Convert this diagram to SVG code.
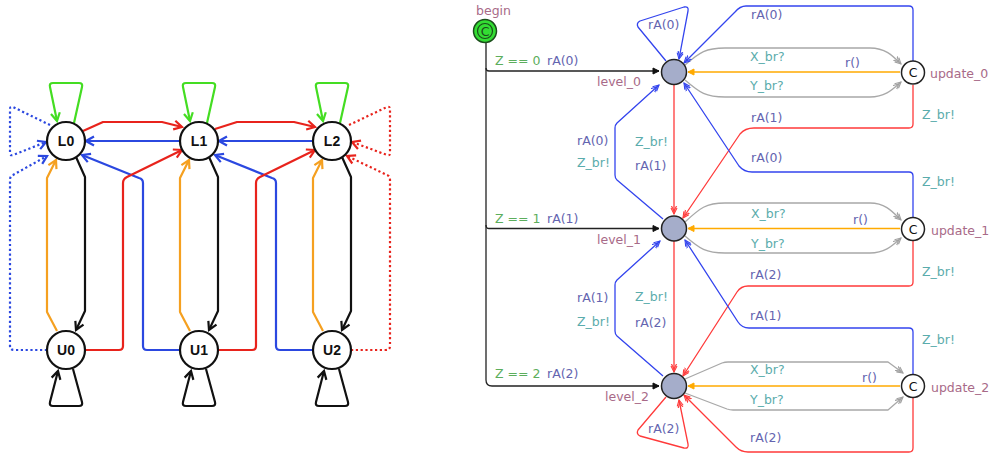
<svg xmlns="http://www.w3.org/2000/svg" width="995" height="459" viewBox="0 0 995 459">
<style>
.ln{fill:none;stroke-width:2.2;stroke-linejoin:round}
.bk{stroke:#111}.rd{stroke:#e8231c}.bl{stroke:#2b48e0}.gr{stroke:#44dd22}.or{stroke:#f5a020}
.dot{stroke-dasharray:2.2 2.6}
.nd{fill:#fff;stroke:#111;stroke-width:2.2}
.nl{font-family:"Liberation Sans",Arial,sans-serif;font-weight:bold;font-size:14px;text-anchor:middle;fill:#111}
.rl{fill:none;stroke-width:1.3;stroke-linejoin:round}
.rb{stroke:#3344ee}.rr{stroke:#ff3a3a}.ro{stroke:#ffaa00}.rg{stroke:#a8a8a8}.rk{stroke:#222}
.t{font-family:"DejaVu Sans",Verdana,sans-serif;font-size:12.5px}
.nm{fill:#a86a88}.as{fill:#6464b0}.sy{fill:#5aacac}.gd{fill:#5cae5c}
.lv{fill:#a5adca;stroke:#222;stroke-width:1.5}
.up{fill:#fff;stroke:#222;stroke-width:1.5}
</style>
<defs>
<marker id="aK" viewBox="-10 -6 12 12" refX="0" refY="0" markerWidth="12" markerHeight="12" markerUnits="userSpaceOnUse" orient="auto"><path d="M-8,-4.5 L0,0 L-8,4.5" fill="none" stroke="#111" stroke-width="2.2"/></marker>
<marker id="aR" viewBox="-10 -6 12 12" refX="0" refY="0" markerWidth="12" markerHeight="12" markerUnits="userSpaceOnUse" orient="auto"><path d="M-8,-4.5 L0,0 L-8,4.5" fill="none" stroke="#e8231c" stroke-width="2.2"/></marker>
<marker id="aB" viewBox="-10 -6 12 12" refX="0" refY="0" markerWidth="12" markerHeight="12" markerUnits="userSpaceOnUse" orient="auto"><path d="M-8,-4.5 L0,0 L-8,4.5" fill="none" stroke="#2b48e0" stroke-width="2.2"/></marker>
<marker id="aG" viewBox="-10 -6 12 12" refX="0" refY="0" markerWidth="12" markerHeight="12" markerUnits="userSpaceOnUse" orient="auto"><path d="M-8,-4.5 L0,0 L-8,4.5" fill="none" stroke="#44dd22" stroke-width="2.2"/></marker>
<marker id="aO" viewBox="-10 -6 12 12" refX="0" refY="0" markerWidth="12" markerHeight="12" markerUnits="userSpaceOnUse" orient="auto"><path d="M-8,-4.5 L0,0 L-8,4.5" fill="none" stroke="#f5a020" stroke-width="2.2"/></marker>
<marker id="sB" viewBox="-8 -5 10 10" refX="0" refY="0" markerWidth="10" markerHeight="10" markerUnits="userSpaceOnUse" orient="auto"><path d="M-6,-3 L0,0 L-6,3 M-9,-3 L-3,0 L-9,3" fill="none" stroke="#3344ee" stroke-width="1.1"/></marker>
<marker id="sR" viewBox="-8 -5 10 10" refX="0" refY="0" markerWidth="10" markerHeight="10" markerUnits="userSpaceOnUse" orient="auto"><path d="M-6,-3 L0,0 L-6,3 M-9,-3 L-3,0 L-9,3" fill="none" stroke="#ff3a3a" stroke-width="1.1"/></marker>
<marker id="sG" viewBox="-8 -5 10 10" refX="0" refY="0" markerWidth="10" markerHeight="10" markerUnits="userSpaceOnUse" orient="auto"><path d="M-6,-3 L0,0 L-6,3 M-9,-3 L-3,0 L-9,3" fill="none" stroke="#a0a0a0" stroke-width="1.1"/></marker>
<marker id="sO" viewBox="-8 -5 10 10" refX="0" refY="0" markerWidth="10" markerHeight="10" markerUnits="userSpaceOnUse" orient="auto"><path d="M-6,-3 L0,0 L-6,3 Z" fill="#ffaa00" stroke="#ffaa00" stroke-width="1"/></marker>
<marker id="sK" viewBox="-8 -5 10 10" refX="0" refY="0" markerWidth="10" markerHeight="10" markerUnits="userSpaceOnUse" orient="auto"><path d="M-6,-3 L0,0 L-6,3 Z" fill="#111" stroke="#111" stroke-width="1"/></marker>
</defs>
<rect width="995" height="459" fill="#fff"/>

<g id="connectors">
<!-- left diagram -->
<g id="left-edges">
<!-- green self loops -->
<path class="ln gr" d="M74,123 L82,87 Q83,83 79,83 L53,83 Q49,83 50,87 L57,121" marker-end="url(#aG)"/>
<path class="ln gr" d="M207,123 L215,87 Q216,83 212,83 L186,83 Q182,83 183,87 L190,121" marker-end="url(#aG)"/>
<path class="ln gr" d="M340,123 L348,87 Q349,83 345,83 L319,83 Q315,83 316,87 L323,121" marker-end="url(#aG)"/>
<!-- black L->U -->
<path class="ln bk" d="M76,157 L85,177 L85,311 L76,330" marker-end="url(#aK)"/>
<path class="ln bk" d="M209,157 L218,177 L218,311 L209,330" marker-end="url(#aK)"/>
<path class="ln bk" d="M342,157 L351,177 L351,311 L342,330" marker-end="url(#aK)"/>
<!-- orange U->L -->
<path class="ln or" d="M57,331 L47,312 L47,178 L56,160" marker-end="url(#aO)"/>
<path class="ln or" d="M190,331 L180,312 L180,178 L189,160" marker-end="url(#aO)"/>
<path class="ln or" d="M323,331 L313,312 L313,178 L322,160" marker-end="url(#aO)"/>
<!-- black U self loops -->
<path class="ln bk" d="M73,369 L82,402 Q83,406 79,406 L53,406 Q49,406 50,402 L58,371" marker-end="url(#aK)"/>
<path class="ln bk" d="M206,369 L215,402 Q216,406 212,406 L186,406 Q182,406 183,402 L191,371" marker-end="url(#aK)"/>
<path class="ln bk" d="M339,369 L348,402 Q349,406 345,406 L319,406 Q315,406 316,402 L324,371" marker-end="url(#aK)"/>
<!-- red L_i -> L_i+1 -->
<path class="ln rd" d="M83,131 L103,122 L162,122 L182,127" marker-end="url(#aR)"/>
<path class="ln rd" d="M215,129 L237,122 L294,122 L315,127" marker-end="url(#aR)"/>
<!-- blue L_i+1 -> L_i -->
<path class="ln bl" d="M180,141 L86,141" marker-end="url(#aB)"/>
<path class="ln bl" d="M313,141 L219,141" marker-end="url(#aB)"/>
<!-- blue U_i+1 -> L_i -->
<path class="ln bl" d="M180,350 L147,350 Q143,350 143,346 L143,183 Q143,179 139,178 L82,155" marker-end="url(#aB)"/>
<path class="ln bl" d="M313,350 L280,350 Q276,350 276,346 L276,183 Q276,179 272,178 L215,155" marker-end="url(#aB)"/>
<!-- red U_i -> L_i+1 -->
<path class="ln rd" d="M85,350 L119,350 Q123,350 123,346 L123,183 Q123,179 127,177 L182,150" marker-end="url(#aR)"/>
<path class="ln rd" d="M218,350 L252,350 Q256,350 256,346 L256,183 Q256,179 260,177 L315,150" marker-end="url(#aR)"/>
<!-- dotted blue at L0 -->
<path class="ln bl dot" d="M50,125 L13,107 Q10,106 10,109 L10,153 Q10,156 13,155 L46,142" marker-end="url(#aB)"/>
<path class="ln bl dot" d="M47,350 L14,350 Q10,350 10,346 L10,180 Q10,176 13,175 L47,156" marker-end="url(#aB)"/>
<!-- dotted red at L2 -->
<path class="ln rd dot" d="M349,125 L387,107 Q390,106 390,109 L390,153 Q390,156 387,155 L352,142" marker-end="url(#aR)"/>
<path class="ln rd dot" d="M351,350 L386,350 Q390,350 390,346 L390,180 Q390,176 387,175 L347,156" marker-end="url(#aR)"/>
</g>

<!-- right diagram -->
<g id="right-edges">
<!-- init branches -->
<path class="rl rk" d="M486,42 L486,380 Q486,386 492,386 L659,386" marker-end="url(#sK)"/>
<path class="rl rk" d="M486,68 Q486,71 489,71 L659,71" marker-end="url(#sK)"/>
<path class="rl rk" d="M486,225 Q486,228.5 489,228.5 L659,228.5" marker-end="url(#sK)"/>
<!-- orange r() -->
<path class="rl ro" d="M900,72 L688,72" marker-end="url(#sO)"/>
<path class="rl ro" d="M900,228.5 L688,228.5" marker-end="url(#sO)"/>
<path class="rl ro" d="M900,386 L688,386" marker-end="url(#sO)"/>
<!-- gray X_br? / Y_br? -->
<path class="rl rg" d="M685,65 C700,52 706,48 725,48 L870,48 C885,48 892,55 901,64" marker-end="url(#sG)"/>
<path class="rl rg" d="M685,80 C700,93 706,97 725,97 L870,97 C885,97 892,90 901,82" marker-end="url(#sG)"/>
<path class="rl rg" d="M685,222 C700,208 706,203 725,203 L870,203 C885,203 892,211 901,220" marker-end="url(#sG)"/>
<path class="rl rg" d="M685,236 C700,249 706,253 725,253 L870,253 C885,253 892,246 901,238" marker-end="url(#sG)"/>
<path class="rl rg" d="M685,379 L722,363 Q725,362 728,362 L888,362 L903,373" marker-end="url(#sG)"/>
<path class="rl rg" d="M685,393 L727,409 Q730,410 733,410 L888,410 L903,397" marker-end="url(#sG)"/>
<!-- red vertical level_i -> level_i+1 -->
<path class="rl rr" d="M674,85 L674,214" marker-end="url(#sR)"/>
<path class="rl rr" d="M674,241 L674,372" marker-end="url(#sR)"/>
<!-- blue left level_i+1 -> level_i -->
<path class="rl rb" d="M663,219 L617,180 Q615,178 615,175 L615,128 Q615,125 617,123 L659,85" marker-end="url(#sB)"/>
<path class="rl rb" d="M663,376 L617,336 Q615,334 615,331 L615,285 Q615,282 617,280 L660,241" marker-end="url(#sB)"/>
<!-- self loops -->
<path class="rl rb" d="M666,61 L638,27 Q636,23 640,21 L684,7 Q689,6 688,11 L679,59" marker-end="url(#sB)"/>
<path class="rl rr" d="M666,397 L638,430 Q636,434 640,436 L684,448 Q689,449 688,444 L679,400" marker-end="url(#sR)"/>
<!-- update -> level -->
<path class="rl rb" d="M913,61 L913,10 Q913,6 909,6 L746,6 Q740,6 735,12 L684,63" marker-end="url(#sB)"/>
<path class="rl rr" d="M913,85 L913,124 Q913,128 909,128 L754,128 Q745,128 740,134 L683,218" marker-end="url(#sR)"/>
<path class="rl rb" d="M913,217 L913,176 Q913,172 909,172 L752,172 Q744,172 739,166 L684,83" marker-end="url(#sB)"/>
<path class="rl rr" d="M913,241 L913,282 Q913,286 909,286 L748,286 Q741,286 737,292 L683,376" marker-end="url(#sR)"/>
<path class="rl rb" d="M913,374 L913,332 Q913,328 909,328 L749,328 Q742,328 738,322 L685,240" marker-end="url(#sB)"/>
<path class="rl rr" d="M913,398 L913,448 Q913,452 909,452 L748,452 Q741,452 736,447 L684,395" marker-end="url(#sR)"/>
</g>
</g>

<!-- left nodes -->
<g id="L0"><circle class="nd" cx="66" cy="141" r="19"/><text class="nl" x="66" y="146">L0</text></g>
<g id="L1"><circle class="nd" cx="199" cy="141" r="19"/><text class="nl" x="199" y="146">L1</text></g>
<g id="L2"><circle class="nd" cx="332" cy="141" r="19"/><text class="nl" x="332" y="146">L2</text></g>
<g id="U0"><circle class="nd" cx="66" cy="350" r="19"/><text class="nl" x="66" y="355">U0</text></g>
<g id="U1"><circle class="nd" cx="199" cy="350" r="19"/><text class="nl" x="199" y="355">U1</text></g>
<g id="U2"><circle class="nd" cx="332" cy="350" r="19"/><text class="nl" x="332" y="355">U2</text></g>

<!-- right nodes -->
<g id="begin">
<circle cx="485" cy="31" r="11.5" fill="#33dd33" stroke="#1b4d1b" stroke-width="1.5"/>
<circle cx="485" cy="31" r="7.5" fill="none" stroke="#1b4d1b" stroke-width="1.2"/>
<text class="t" x="485" y="35.5" text-anchor="middle" font-size="11" fill="#1b4d1b">C</text>
<text class="t nm" x="476" y="15">begin</text>
</g>
<g id="level_0"><circle class="lv" cx="674" cy="72" r="12.5"/><text class="t nm" x="597" y="86">level_0</text></g>
<g id="level_1"><circle class="lv" cx="674" cy="228.5" r="12.5"/><text class="t nm" x="597" y="244">level_1</text></g>
<g id="level_2"><circle class="lv" cx="674" cy="386" r="12.5"/><text class="t nm" x="605" y="401">level_2</text></g>
<g id="update_0"><circle class="up" cx="913" cy="72.5" r="11.5"/><text class="t" x="913" y="77" text-anchor="middle" font-size="12" fill="#111">C</text><text class="t nm" x="930" y="78">update_0</text></g>
<g id="update_1"><circle class="up" cx="913" cy="229" r="11.5"/><text class="t" x="913" y="233.5" text-anchor="middle" font-size="12" fill="#111">C</text><text class="t nm" x="931" y="235">update_1</text></g>
<g id="update_2"><circle class="up" cx="913" cy="386" r="11.5"/><text class="t" x="913" y="390.5" text-anchor="middle" font-size="12" fill="#111">C</text><text class="t nm" x="931" y="392">update_2</text></g>

<!-- edge labels -->
<g id="labels" class="t">
<text class="gd" x="495" y="65">Z == 0</text><text class="as" x="547" y="65">rA(0)</text>
<text class="gd" x="495" y="223">Z == 1</text><text class="as" x="547" y="223">rA(1)</text>
<text class="gd" x="495" y="378">Z == 2</text><text class="as" x="547" y="378">rA(2)</text>
<text class="as" x="648" y="29">rA(0)</text>
<text class="as" x="648" y="433">rA(2)</text>
<text class="as" x="751" y="19">rA(0)</text>
<text class="sy" x="750" y="61">X_br?</text><text class="as" x="845" y="67">r()</text><text class="sy" x="750" y="90">Y_br?</text>
<text class="as" x="751" y="122">rA(1)</text><text class="sy" x="922" y="119">Z_br!</text>
<text class="as" x="577" y="145">rA(0)</text><text class="sy" x="577" y="167">Z_br!</text>
<text class="sy" x="635" y="146">Z_br!</text><text class="as" x="635" y="170">rA(1)</text>
<text class="as" x="751" y="162">rA(0)</text><text class="sy" x="922" y="186">Z_br!</text>
<text class="sy" x="751" y="218">X_br?</text><text class="as" x="853" y="224">r()</text><text class="sy" x="751" y="248">Y_br?</text>
<text class="as" x="750" y="279">rA(2)</text><text class="sy" x="922" y="276">Z_br!</text>
<text class="as" x="577" y="302">rA(1)</text><text class="sy" x="577" y="326">Z_br!</text>
<text class="sy" x="635" y="301">Z_br!</text><text class="as" x="635" y="327">rA(2)</text>
<text class="as" x="750" y="320">rA(1)</text><text class="sy" x="922" y="344">Z_br!</text>
<text class="sy" x="750" y="374">X_br?</text><text class="as" x="862" y="382">r()</text><text class="sy" x="750" y="404">Y_br?</text>
<text class="as" x="750" y="442">rA(2)</text>
</g>
</svg>
